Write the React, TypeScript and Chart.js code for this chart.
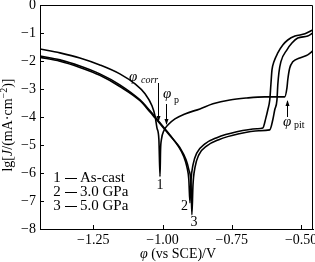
import React, { useEffect, useRef } from "react";
import { Chart, registerables } from "chart.js";

Chart.register(...registerables);

// ---- axis setup ----
const xMin = -1.442;
const xMax = -0.457;
const yMin = -8;
const yMax = 0;
const xTickValues = [-1.25, -1.0, -0.75, -0.5];
const yTickValues = [0, -1, -2, -3, -4, -5, -6, -7, -8];

// ---- series: potential (V vs SCE) and lg J ----
const seriesNames = ["As-cast", "3.0 GPa", "5.0 GPa"];
const seriesNumbers = ["1", "2", "3"];

const asCastPotential = [
  -1.442, -1.37, -1.298, -1.226, -1.154, -1.099, -1.063, -1.038, -1.027, -1.02, -1.013, -1.009,
  -1.007, -1.004, -0.995, -0.98, -0.955, -0.919, -0.865, -0.818, -0.757, -0.696, -0.631, -0.559,
  -0.551, -0.548, -0.541, -0.53, -0.505, -0.476, -0.458,
];
const asCastLgJ = [
  -1.57, -1.71, -1.89, -2.14, -2.46, -2.82, -3.17, -3.6, -3.96, -4.39, -4.81, -6.13,
  -5.17, -4.81, -4.49, -4.28, -4.07, -3.89, -3.71, -3.53, -3.39, -3.32, -3.28, -3.28,
  -2.96, -2.67, -2.25, -2.03, -1.89, -1.78, -1.64,
];

const gpa3Potential = [
  -1.442, -1.37, -1.298, -1.226, -1.154, -1.081, -1.045, -1.027, -1.009, -0.973, -0.944, -0.923,
  -0.912, -0.905, -0.901, -0.897, -0.89, -0.876, -0.847, -0.804, -0.732, -0.659, -0.638, -0.627,
  -0.62, -0.613, -0.609, -0.605, -0.598, -0.584, -0.566, -0.548, -0.522, -0.486, -0.458,
];
const gpa3LgJ = [
  -1.82, -1.96, -2.18, -2.46, -2.85, -3.39, -3.78, -3.99, -4.21, -4.64, -5.03, -5.42,
  -5.78, -6.24, -7.06, -6.24, -5.71, -5.28, -4.96, -4.74, -4.53, -4.42, -4.39, -4.03,
  -3.74, -3.39, -2.85, -2.32, -2.03, -1.71, -1.43, -1.25, -1.11, -1.03, -0.89,
];

const gpa5Potential = [
  -1.442, -1.37, -1.298, -1.226, -1.154, -1.081, -1.045, -1.027, -1.009, -0.973, -0.937, -0.915,
  -0.905, -0.897, -0.894, -0.89, -0.883, -0.869, -0.84, -0.797, -0.724, -0.652, -0.613, -0.602,
  -0.595, -0.587, -0.584, -0.58, -0.573, -0.551, -0.533, -0.512, -0.476, -0.458,
];
const gpa5LgJ = [
  -1.87, -2.01, -2.23, -2.51, -2.91, -3.42, -3.82, -4.03, -4.24, -4.67, -5.1, -5.53,
  -5.88, -6.42, -7.49, -6.42, -5.81, -5.35, -5.03, -4.81, -4.6, -4.49, -4.46, -4.1,
  -3.74, -3.39, -2.85, -2.42, -2.03, -1.6, -1.36, -1.18, -1.11, -1.0,
];

const SERIF = "'Liberation Serif', 'Times New Roman', serif";

function fmtMinus(v: number, digits: number) {
  const s = Math.abs(v).toFixed(digits);
  return v < 0 ? "\u2212" + s : s;
}

type Run = { text: string; font: string; dy?: number };

function drawRuns(ctx: CanvasRenderingContext2D, runs: Run[], x: number, y: number, align: "left" | "center") {
  let total = 0;
  for (const r of runs) {
    ctx.font = r.font;
    total += ctx.measureText(r.text).width;
  }
  let cx = align === "center" ? x - total / 2 : x;
  for (const r of runs) {
    ctx.font = r.font;
    ctx.fillText(r.text, cx, y + (r.dy || 0));
    cx += ctx.measureText(r.text).width;
  }
}

function arrow(ctx: CanvasRenderingContext2D, x: number, y0: number, y1: number) {
  ctx.beginPath();
  ctx.moveTo(x, y0);
  ctx.lineTo(x, y1);
  ctx.stroke();
  const dir = y1 > y0 ? 1 : -1;
  ctx.beginPath();
  ctx.moveTo(x, y1 + dir * 1);
  ctx.lineTo(x - 2, y1 - dir * 5);
  ctx.lineTo(x + 2, y1 - dir * 5);
  ctx.closePath();
  ctx.fill();
}

const decorPlugin = {
  id: "decor",
  afterDraw(chart: any) {
    const ctx: CanvasRenderingContext2D = chart.ctx;
    const { left, right, top, bottom } = chart.chartArea;
    const xs = chart.scales.x;
    const ys = chart.scales.y;
    ctx.save();
    ctx.strokeStyle = "#000";
    ctx.fillStyle = "#000";
    ctx.lineWidth = 1;
    // frame top & right
    ctx.beginPath();
    ctx.moveTo(left, top + 0.5);
    ctx.lineTo(right - 0.5, top + 0.5);
    ctx.lineTo(right - 0.5, bottom);
    ctx.stroke();
    // inward ticks
    for (const v of xTickValues) {
      const px = Math.round(xs.getPixelForValue(v)) + 0.5;
      ctx.beginPath();
      ctx.moveTo(px, bottom);
      ctx.lineTo(px, bottom - 4);
      ctx.stroke();
    }
    for (const v of yTickValues) {
      const py = Math.round(ys.getPixelForValue(v)) + 0.5;
      ctx.beginPath();
      ctx.moveTo(left, py);
      ctx.lineTo(left + 4, py);
      ctx.stroke();
    }
    ctx.textBaseline = "middle";
    // x title
    drawRuns(
      ctx,
      [
        { text: "\u03C6", font: `italic 14px ${SERIF}` },
        { text: " (vs SCE)/V", font: `14px ${SERIF}` },
      ],
      178,
      254,
      "center"
    );
    // y title
    ctx.save();
    ctx.translate(8, 125);
    ctx.rotate(-Math.PI / 2);
    drawRuns(
      ctx,
      [
        { text: "lg[", font: `14px ${SERIF}` },
        { text: "J", font: `italic 14px ${SERIF}` },
        { text: "/(mA\u00B7cm", font: `14px ${SERIF}` },
        { text: "\u22122", font: `10px ${SERIF}`, dy: -4 },
        { text: ")]", font: `14px ${SERIF}` },
      ],
      0,
      0,
      "center"
    );
    ctx.restore();

    // annotations
    drawRuns(ctx, [{ text: "\u03C6", font: `italic 15px ${SERIF}` }], 129, 77, "left");
    drawRuns(ctx, [{ text: "corr", font: `italic 10px ${SERIF}` }], 141, 80, "left");
    arrow(ctx, 158.5, 83, 121);
    drawRuns(ctx, [{ text: "\u03C6", font: `italic 15px ${SERIF}` }], 163, 94, "left");
    drawRuns(ctx, [{ text: "p", font: `10px ${SERIF}` }], 174, 100, "left");
    arrow(ctx, 166.5, 104, 124);
    arrow(ctx, 287.5, 117, 101);
    drawRuns(ctx, [{ text: "\u03C6", font: `italic 15px ${SERIF}` }], 283, 122, "left");
    drawRuns(ctx, [{ text: "pit", font: `10px ${SERIF}` }], 294, 125, "left");

    // curve number labels
    ctx.textAlign = "center";
    ctx.font = `14px ${SERIF}`;
    ctx.fillText(seriesNumbers[0], 160, 185);
    ctx.fillText(seriesNumbers[1], 184.5, 206);
    ctx.fillText(seriesNumbers[2], 194, 222);

    // legend
    ctx.textAlign = "left";
    seriesNames.forEach((name, i) => {
      const y = 178 + i * 14;
      ctx.font = `15px ${SERIF}`;
      ctx.textAlign = "center";
      ctx.fillText(seriesNumbers[i], 57, y);
      ctx.textAlign = "left";
      ctx.beginPath();
      ctx.moveTo(65, Math.round(y) + 0.5);
      ctx.lineTo(77, Math.round(y) + 0.5);
      ctx.stroke();
      ctx.fillText(name, 80, y);
    });
    ctx.restore();
  },
};

function toPoints(xs: number[], ys: number[]) {
  return xs.map((x, i) => ({ x, y: ys[i] }));
}

export default function App() {
  const ref = useRef<HTMLCanvasElement | null>(null);
  useEffect(() => {
    if (!ref.current) return;
    const mk = (label: string, xs: number[], ys: number[]) => ({
      label,
      data: toPoints(xs, ys),
      borderColor: "#000",
      borderWidth: 1.6,
      pointRadius: 0,
      fill: false,
      showLine: true,
      tension: 0,
    });
    const chart = new Chart(ref.current, {
      type: "scatter",
      data: {
        datasets: [
          mk(seriesNames[0], asCastPotential, asCastLgJ),
          mk(seriesNames[1], gpa3Potential, gpa3LgJ),
          mk(seriesNames[2], gpa5Potential, gpa5LgJ),
        ],
      },
      options: {
        animation: false,
        responsive: false,
        devicePixelRatio: 1,
        layout: { padding: { top: 5, right: 2, left: 0, bottom: 0 } },
        plugins: { legend: { display: false }, tooltip: { enabled: false } },
        elements: { line: { cubicInterpolationMode: "monotone" } },
        scales: {
          x: {
            type: "linear",
            min: xMin,
            max: xMax,
            afterBuildTicks: (s: any) => {
              s.ticks = xTickValues.map((v) => ({ value: v }));
            },
            afterFit: (s: any) => {
              s.height = 33;
              s.paddingLeft = 0;
              s.paddingRight = 0;
            },
            ticks: {
              callback: (v: any) => fmtMinus(Number(v), 2),
              font: { family: SERIF, size: 14 },
              color: "#000",
              maxRotation: 0,
              autoSkip: false,
              padding: 3,
            },
            grid: { display: false, drawTicks: false },
            border: { display: true, color: "#000", width: 1 },
          },
          y: {
            type: "linear",
            min: yMin,
            max: yMax,
            afterBuildTicks: (s: any) => {
              s.ticks = yTickValues.map((v) => ({ value: v }));
            },
            afterFit: (s: any) => {
              s.width = 40;
              s.paddingTop = 0;
              s.paddingBottom = 0;
            },
            ticks: {
              callback: (v: any) => fmtMinus(Number(v), 0),
              font: { family: SERIF, size: 14 },
              color: "#000",
              autoSkip: false,
              padding: 4,
            },
            grid: { display: false, drawTicks: false },
            border: { display: true, color: "#000", width: 1 },
          },
        },
      } as any,
      plugins: [decorPlugin],
    });
    return () => chart.destroy();
  }, []);
  return (
    <div style={{ position: "absolute", left: 0, top: 0, width: 315, height: 262, background: "#fff" }}>
      <canvas ref={ref} width={315} height={262} style={{ display: "block", width: 315, height: 262 }} />
    </div>
  );
}
